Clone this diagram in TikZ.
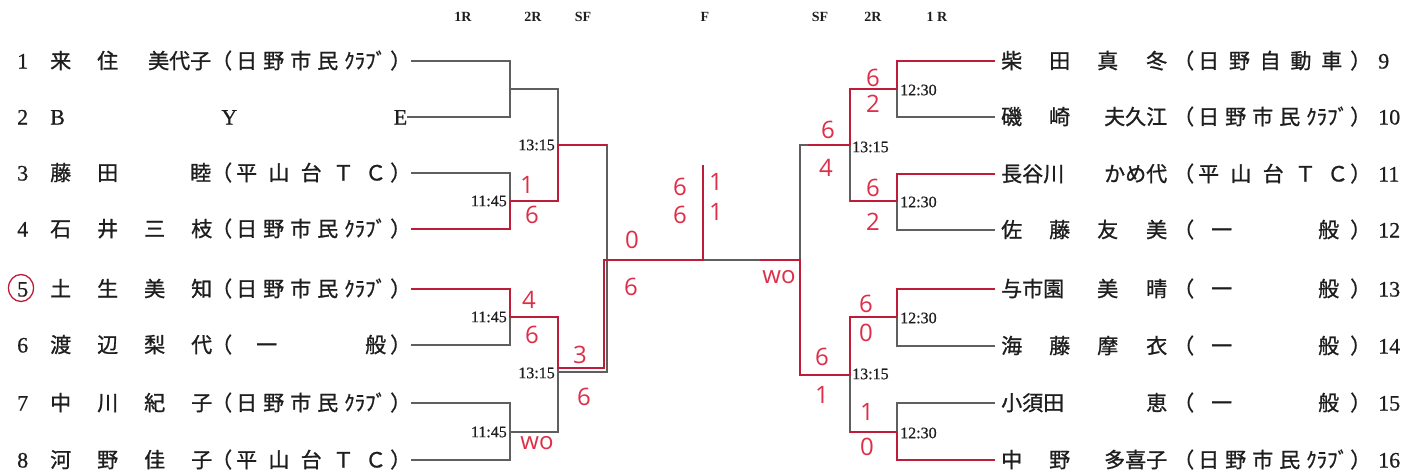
\documentclass[tikz,border=0pt]{standalone}
\usepackage{fontspec}
\setmainfont{Liberation Serif}
\newfontfamily\jp[FakeBold=1]{Noto Sans CJK JP}
\newfontfamily\hand{Open Sans}
\newfontfamily\numf[FakeBold=0.6]{Liberation Serif}
\usetikzlibrary{calc}
\definecolor{ink}{RGB}{95,95,95}
\definecolor{txt}{RGB}{30,30,30}
\definecolor{pen}{RGB}{190,28,56}
\definecolor{penw}{RGB}{222,46,72}
\newcommand\rowfont{\fontsize{21}{24}\selectfont}
\newcommand\slotL[1]{\makebox[47pt][l]{#1}}
\newcommand\slotR[1]{\makebox[48pt][l]{#1}}
\newcommand\lrow[5]{\node[rowtext] (#1) at (17,#2) {\makebox[33pt][l]{\numf\fontsize{22}{24}\selectfont #3}\hbox to 161pt{\jp #4}\hbox to 200pt{\jp （\hfill\hbox to 150pt{#5}\hfill）}};}
\newcommand\rrow[5]{\node[rowtext] (#1) at (995,#2) {\hspace{6pt}\hbox to 166pt{\jp #4}\hspace{6pt}{\jp （}\hspace{4pt}\hbox to 150pt{\jp #5}\hspace{2pt}{\jp ）}\hspace{7pt}{\numf\fontsize{22}{24}\selectfont #3}};}
\newcommand\club{日\hfill 野\hfill 市\hfill 民\hfill ｸﾗﾌﾞ}
\newcommand\tc{平\hfill 山\hfill 台\hfill Ｔ\hfill Ｃ}
\begin{document}
\begin{tikzpicture}[x=1pt,y=-1pt,
  gl/.style={draw=ink, line width=1.1pt},
  rd/.style={draw=pen, line width=2.6pt},
  rowtext/.style={inner sep=0pt, text height=19pt, text depth=4pt, anchor=west, font=\rowfont, text=txt},
  hd/.style={inner sep=0pt, font=\bfseries\fontsize{14}{14}\selectfont, text=txt},
  tm/.style={inner sep=0pt, font=\numf\fontsize{16}{16}\selectfont, text=txt},
  sc/.style={inner sep=0pt, font=\hand\fontsize{24}{24}\selectfont, text=penw}]
\useasboundingbox (0,0) rectangle (1417,475);
\fill[white] (0,0) rectangle (1417,475);
% headers
\node[hd] (h1) at (463,17) {1R};
\node[hd] (h2) at (533,17) {2R};
\node[hd] (h3) at (583,17) {SF};
\node[hd] (h4) at (705,17) {F};
\node[hd] (h5) at (820,17) {SF};
\node[hd] (h6) at (873,17) {2R};
\node[hd] (h7) at (937,17) {1 R};
% left rows
\lrow{L1}{61}{1}{\slotL{来}\slotL{住}\hfill 美代子}{\club}
\node[rowtext] (L2) at (17,117) {\makebox[33pt][l]{\numf\fontsize{22}{24}\selectfont 2}\hbox to 357pt{\numf\fontsize{22}{24}\selectfont B\hfill Y\hfill E}\hspace{6pt}};
\lrow{L3}{173}{3}{\slotL{藤}\slotL{田}\hfill 睦}{\tc}
\lrow{L4}{229}{4}{\slotL{石}\slotL{井}\slotL{三}\hfill 枝}{\club}
\lrow{L5}{289}{5}{\slotL{土}\slotL{生}\slotL{美}\hfill 知}{\club}
\lrow{L6}{345}{6}{\slotL{渡}\slotL{辺}\slotL{梨}\hfill 代}{\hspace{20pt}一\hfill 般}
\lrow{L7}{403}{7}{\slotL{中}\slotL{川}\slotL{紀}\hfill 子}{\club}
\lrow{L8}{460}{8}{\slotL{河}\slotL{野}\slotL{佳}\hfill 子}{\tc}
% right rows
\rrow{R9}{61}{9}{\slotR{柴}\slotR{田}\slotR{真}\hfill 冬}{日\hfill 野\hfill 自\hfill 動\hfill 車\hspace{6pt}}
\rrow{R10}{117}{10}{\slotR{磯}\slotR{崎}\hfill 夫久江}{\club}
\rrow{R11}{174}{11}{長谷川\hfill かめ代}{\tc}
\rrow{R12}{230}{12}{\slotR{佐}\slotR{藤}\slotR{友}\hfill 美}{\hspace{13pt}一\hfill 般\hspace{9pt}}
\rrow{R13}{289}{13}{\makebox[96pt][l]{与市園}\slotR{美}\hfill 晴}{\hspace{13pt}一\hfill 般\hspace{9pt}}
\rrow{R14}{346}{14}{\slotR{海}\slotR{藤}\slotR{摩}\hfill 衣}{\hspace{13pt}一\hfill 般\hspace{9pt}}
\rrow{R15}{403}{15}{小須田\hfill 恵}{\hspace{13pt}一\hfill 般\hspace{9pt}}
\rrow{R16}{460}{16}{\slotR{中}\slotR{野}\hfill 多喜子}{\club}
% joints
\coordinate (j1) at (510,89);  \coordinate (j2) at (510,201);
\coordinate (j3) at (510,317); \coordinate (j4) at (510,432);
\coordinate (k1) at (558,145); \coordinate (k2) at (558,372);
\coordinate (s1) at (607,260); \coordinate (c) at (703,260); \coordinate (ct) at (703,165);
\coordinate (s2) at (800,260);
\coordinate (p1) at (850,145); \coordinate (p2) at (850,375);
\coordinate (q1) at (897,89);  \coordinate (q2) at (897,201);
\coordinate (q3) at (897,317); \coordinate (q4) at (897,432);
% gray bracket
\draw[gl] (L1.east) -| (j1) |- (L2.east);
\draw[gl] (L3.east) -| (j2) |- (L4.east);
\draw[gl] (L5.east) -| (j3) |- (L6.east);
\draw[gl] (L7.east) -| (j4) |- (L8.east);
\draw[gl] (j1) -| (k1) |- (j2);
\draw[gl] (j3) -| (k2) |- (j4);
\draw[gl] (k1) -| (s1) |- (k2);
\draw[gl] (s1) -- (s2);
\draw[gl] (R9.west) -| (q1) |- (R10.west);
\draw[gl] (R11.west) -| (q2) |- (R12.west);
\draw[gl] (R13.west) -| (q3) |- (R14.west);
\draw[gl] (R15.west) -| (q4) |- (R16.west);
\draw[gl] (q1) -| (p1) |- (q2);
\draw[gl] (q3) -| (p2) |- (q4);
\draw[gl] (p1) -| (s2) |- (p2);
% red winner paths
\draw[rd] (L4.east) -| (j2) -| (k1) -- (k1 -| s1);
\draw[rd] (L5.east) -| (j3) -| ($(k2)+(0,-4)$) -| ($(s1)+(-3,0)$) -- (c) -- (ct);
\draw[rd] (R9.west) -| (q1) -| (p1) -- ($(p1)+(-42,0)$);
\draw[rd] (R11.west) -| (q2) -- (q2 -| p1);
\draw[rd] (R13.west) -| (q3) -| (p2) -| (s2) -- ($(s2)+(-40,0)$);
\draw[rd] (R16.west) -| (q4) -- (q4 -| p2);
% times
\node[tm, anchor=east] (t1) at (507,201) {11:45};
\node[tm, anchor=east] (t2) at (507,317) {11:45};
\node[tm, anchor=east] (t3) at (507,432) {11:45};
\node[tm, anchor=east] (t4) at (555,145) {13:15};
\node[tm, anchor=east] (t5) at (555,373) {13:15};
\node[tm, anchor=west] (t6) at (900,90) {12:30};
\node[tm, anchor=west] (t7) at (900,202) {12:30};
\node[tm, anchor=west] (t8) at (900,318) {12:30};
\node[tm, anchor=west] (t9) at (900,433) {12:30};
\node[tm, anchor=west] (t10) at (852,147) {13:15};
\node[tm, anchor=west] (t11) at (852,374) {13:15};
% handwritten scores
\node[sc] (a1) at (527,185) {1};
\node[sc] (a2) at (532,215) {6};
\node[sc] (a3) at (529,300) {4};
\node[sc] (a4) at (532,335) {6};
\node[sc] (a5) at (537,443) {wo};
\node[sc] (a6) at (580,355) {3};
\node[sc] (a7) at (584,397) {6};
\node[sc] (a8) at (632,240) {0};
\node[sc] (a9) at (631,287) {6};
\node[sc] (a10) at (680,187) {6};
\node[sc] (a11) at (680,215) {6};
\node[sc] (a12) at (716,182) {1};
\node[sc] (a13) at (716,212) {1};
\node[sc] (b1) at (779,277) {wo};
\node[sc] (b2) at (828,130) {6};
\node[sc] (b3) at (826,168) {4};
\node[sc] (b4) at (873,78) {6};
\node[sc] (b5) at (873,104) {2};
\node[sc] (b6) at (873,188) {6};
\node[sc] (b7) at (873,222) {2};
\node[sc] (b8) at (866,304) {6};
\node[sc] (b9) at (866,333) {0};
\node[sc] (b10) at (822,357) {6};
\node[sc] (b11) at (822,395) {1};
\node[sc] (b12) at (867,412) {1};
\node[sc] (b13) at (867,447) {0};
% circle round 5
\draw[pen, line width=1.3pt] (21,288) ellipse [x radius=12.5pt, y radius=13.5pt];
\end{tikzpicture}
\end{document}
